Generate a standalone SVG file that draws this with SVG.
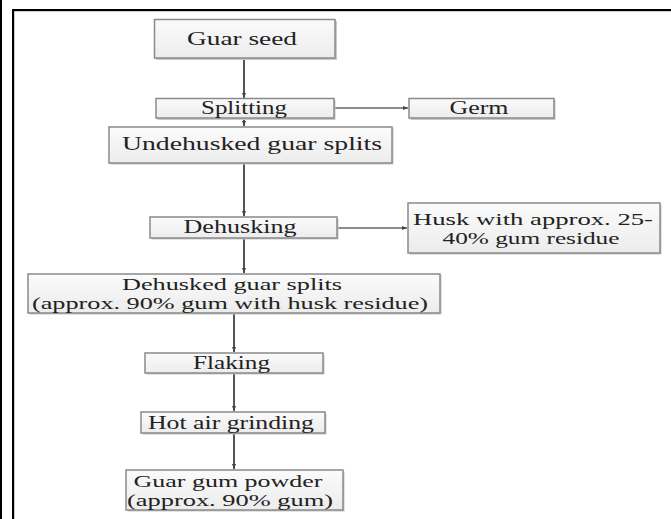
<svg xmlns="http://www.w3.org/2000/svg" width="671" height="519" viewBox="0 0 671 519">
<defs>
<linearGradient id="g" x1="0" y1="0" x2="0" y2="1"><stop offset="0" stop-color="#fbfbfb"/><stop offset="1" stop-color="#ececec"/></linearGradient>
<marker id="ah" markerWidth="6" markerHeight="6" refX="5" refY="3" orient="auto" markerUnits="userSpaceOnUse"><path d="M0,1 L5,3 L0,5 z" fill="#444"/></marker>
</defs>
<style>
.s{fill:#c8c8c8}
.b{fill:url(#g);stroke:#8a8a8a;stroke-width:1.5}
.t{font-family:"Liberation Serif","Times New Roman",serif;font-size:18px;fill:#222;text-anchor:middle}
.t2{font-size:17px}
.c{stroke:#555;stroke-width:2;fill:none}
.a{stroke:#666;stroke-width:1.3;fill:none}
</style>
<rect width="671" height="519" fill="#fff"/>
<g id="frame" fill="#000">
<rect x="0" y="0" width="2" height="519"/>
<rect x="12" y="9" width="2.2" height="510"/>
<rect x="12" y="9" width="659" height="2.2"/>
</g>
<g id="connectors">
<line class="c" x1="244" y1="59" x2="244" y2="98" marker-end="url(#ah)"/>
<line class="c" x1="244" y1="118" x2="244" y2="126" marker-end="url(#ah)"/>
<line class="c" x1="244" y1="163" x2="244" y2="216" marker-end="url(#ah)"/>
<line class="c" x1="244" y1="238" x2="244" y2="273" marker-end="url(#ah)"/>
<line class="c" x1="234" y1="313" x2="234" y2="352" marker-end="url(#ah)"/>
<line class="c" x1="234" y1="373" x2="234" y2="411" marker-end="url(#ah)"/>
<line class="c" x1="234" y1="433" x2="234" y2="469" marker-end="url(#ah)"/>
<line class="a" x1="334" y1="108" x2="408" y2="108" marker-end="url(#ah)"/>
<line class="a" x1="337" y1="228" x2="407" y2="228" marker-end="url(#ah)"/>
</g>
<g id="n1"><rect class="s" x="156" y="21" width="181" height="39"/><rect class="b" x="154.5" y="19.5" width="180.5" height="38.5"/><text class="t" x="242" y="45" textLength="110" lengthAdjust="spacingAndGlyphs">Guar seed</text></g>
<g id="n2"><rect class="s" x="157.5" y="100" width="178" height="20"/><rect class="b" x="156" y="98.5" width="178" height="19.5"/><text class="t" x="244" y="114" textLength="86" lengthAdjust="spacingAndGlyphs">Splitting</text></g>
<g id="n3"><rect class="s" x="410.5" y="100" width="145" height="20"/><rect class="b" x="409" y="98.5" width="145" height="19.5"/><text class="t" x="479" y="114" textLength="59" lengthAdjust="spacingAndGlyphs">Germ</text></g>
<g id="n4"><rect class="s" x="110.5" y="128.5" width="283" height="36"/><rect class="b" x="109" y="127" width="283" height="36"/><text class="t" x="252" y="150" textLength="260" lengthAdjust="spacingAndGlyphs">Undehusked guar splits</text></g>
<g id="n5"><rect class="s" x="151.5" y="218.5" width="187" height="21"/><rect class="b" x="150" y="217" width="187" height="21"/><text class="t" x="240" y="233" textLength="113" lengthAdjust="spacingAndGlyphs">Dehusking</text></g>
<g id="n6"><rect class="s" x="409.5" y="204.5" width="252" height="50"/><rect class="b" x="408" y="203" width="252" height="50"/><text class="t t2" x="533" y="225" textLength="240" lengthAdjust="spacingAndGlyphs">Husk with approx. 25-</text><text class="t t2" x="531" y="244" textLength="177" lengthAdjust="spacingAndGlyphs">40% gum residue</text></g>
<g id="n7"><rect class="s" x="29.5" y="275.5" width="412" height="39"/><rect class="b" x="28" y="274" width="412" height="39"/><text class="t t2" x="232" y="290" textLength="220" lengthAdjust="spacingAndGlyphs">Dehusked guar splits</text><text class="t t2" x="230" y="309" textLength="396" lengthAdjust="spacingAndGlyphs">(approx. 90% gum with husk residue)</text></g>
<g id="n8"><rect class="s" x="146.5" y="354.5" width="178" height="20"/><rect class="b" x="145" y="353" width="178" height="20"/><text class="t" x="231.5" y="369" textLength="77" lengthAdjust="spacingAndGlyphs">Flaking</text></g>
<g id="n9"><rect class="s" x="142.5" y="413.5" width="184" height="21"/><rect class="b" x="141" y="412" width="184" height="21"/><text class="t" x="231" y="429" textLength="166" lengthAdjust="spacingAndGlyphs">Hot air grinding</text></g>
<g id="n10"><rect class="s" x="127.5" y="471.5" width="217" height="40"/><rect class="b" x="126" y="470" width="217" height="40"/><text class="t t2" x="228" y="487" textLength="189" lengthAdjust="spacingAndGlyphs">Guar gum powder</text><text class="t t2" x="230" y="506" textLength="206" lengthAdjust="spacingAndGlyphs">(approx. 90% gum)</text></g>
</svg>
